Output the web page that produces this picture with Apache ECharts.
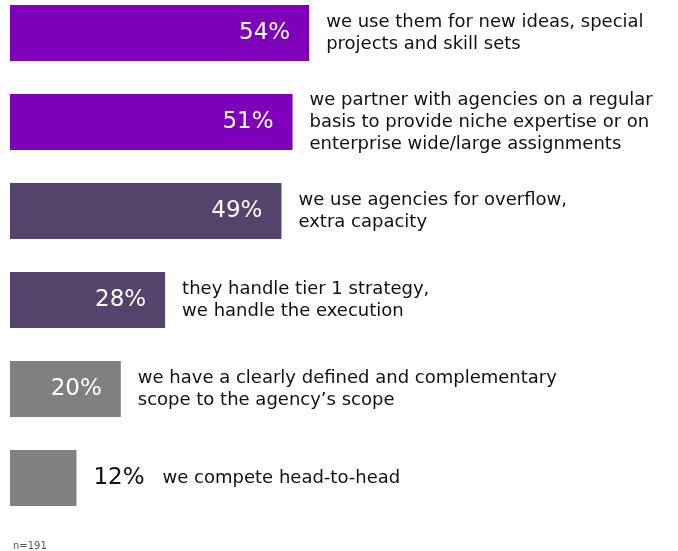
<!DOCTYPE html>
<html>
<head>
<meta charset="utf-8">
<script src="https://cdn.jsdelivr.net/npm/echarts@6/dist/echarts.min.js"></script>
<style>
  html, body { margin: 0; padding: 0; background: #fff; }
  #chart { width: 678px; height: 551px; }
</style>
</head>
<body>
<div id="chart"></div>
<script>
// answers (top to bottom)
const categories = [
  'we use them for new ideas, special\nprojects and skill sets',
  'we partner with agencies on a regular\nbasis to provide niche expertise or on\nenterprise wide/large assignments',
  'we use agencies for overflow,\nextra capacity',
  'they handle tier 1 strategy,\nwe handle the execution',
  'we have a clearly defined and complementary\nscope to the agency\u2019s scope',
  'we compete head-to-head'
];
const values = [54, 51, 49, 28, 20, 12];
const sampleNote = 'n=191';

const palette = ['#7f00bb', '#7f00bb', '#54436a', '#54436a', '#808080', '#808080'];
const FONT = 'DejaVu Sans';

let myChart = echarts.init(document.getElementById('chart'));

myChart.setOption({
  animation: false,
  title: {
    text: sampleNote,
    left: 8,
    top: 536,
    textStyle: { fontSize: 10, fontWeight: 'normal', color: '#555', fontFamily: FONT }
  },
  grid: { left: 10, width: 554, top: -11.5, height: 534, outerBoundsMode: 'none' },
  xAxis: { type: 'value', min: 0, max: 100, show: false },
  yAxis: {
    type: 'category',
    data: categories,
    inverse: true,
    show: false
  },
  series: [
    {
      type: 'bar',
      data: values,
      barWidth: 56,
      silent: true,
      itemStyle: { color: p => palette[p.dataIndex] },
      label: {
        show: true,
        position: 'insideRight',
        distance: 19,
        color: '#fff',
        fontSize: 23,
        fontFamily: FONT,
        formatter: p => (p.value >= 15 ? p.value + '%' : '')
      }
    },
    {
      // transparent twin, only carries the text to the right of each bar
      type: 'bar',
      data: values,
      barWidth: 56,
      barGap: '-100%',
      silent: true,
      itemStyle: { color: 'rgba(0,0,0,0)' },
      label: {
        show: true,
        position: 'right',
        distance: 17,
        formatter: p => {
          let txt = '{t|' + categories[p.dataIndex] + '}';
          if (p.value < 15) txt = '{v|' + p.value + '%}' + txt;
          return txt;
        },
        rich: {
          t: { fontSize: 18, lineHeight: 22, color: '#111', fontFamily: FONT },
          v: { fontSize: 23, lineHeight: 22, color: '#111', fontFamily: FONT, padding: [0, 18, 0, 0] }
        }
      }
    }
  ]
});
</script>
</body>
</html>
